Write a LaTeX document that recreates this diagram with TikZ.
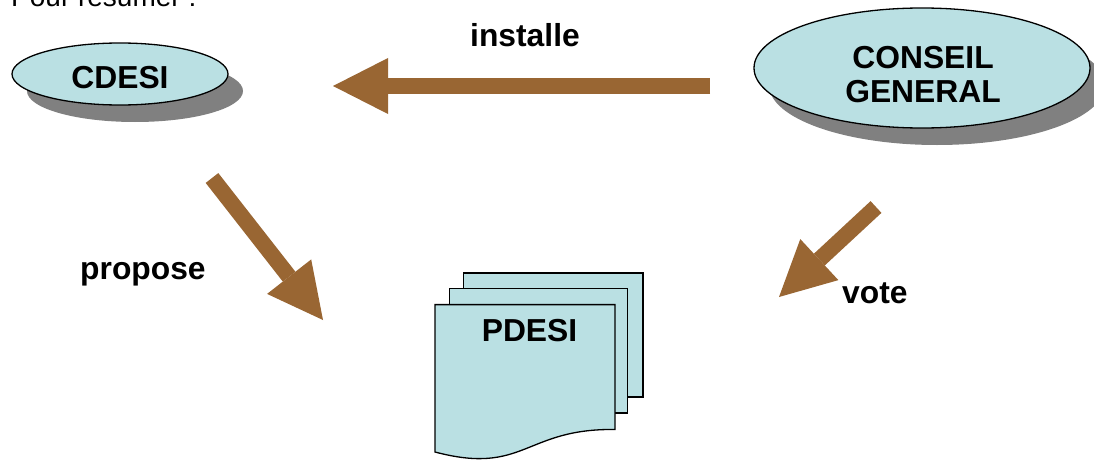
\documentclass[tikz,border=0pt]{standalone}
\usepackage{fontspec}
\setmainfont{Liberation Sans}
\usetikzlibrary{arrows.meta,shapes.geometric,shadows}
\definecolor{paleteal}{RGB}{186,224,227}
\definecolor{shadowgray}{RGB}{128,128,128}
\definecolor{arrowbrown}{RGB}{153,102,51}
\tikzset{
  body/.style={ellipse, draw=black, line width=1.3pt, fill=paleteal, inner sep=0pt,
    general shadow={fill=shadowgray, shadow xshift=15pt, shadow yshift=-17pt}},
  caption/.style={font=\fontsize{31.8}{34}\selectfont\bfseries, inner sep=0pt, align=center},
  heading/.style={font=\fontsize{28}{32}\selectfont, inner sep=0pt},
  flow/.style={arrowbrown, line width=16pt,
    -{Triangle[length=55pt,width=56pt,line width=0pt]}},
  page/.style={draw=black, line width=1.3pt, fill=paleteal, line join=miter}
}
\begin{document}
\begin{tikzpicture}[x=1pt,y=-1pt]
\clip (0,0) rectangle (1094,460);
\fill[white] (0,0) rectangle (1094,460);

% heading, partly above the frame
\node[heading, anchor=base west] (title) at (11,7) {Pour résumer :};

% the two bodies
\node[body, minimum width=216pt, minimum height=62pt] (cdesi) at (120,74) {};
\node[caption] (cdesitxt) at (120,78) {CDESI};

\node[body, minimum width=336pt, minimum height=120pt] (cg) at (922,68) {};
\node[caption] (cgtxt) at (923,74.5) {CONSEIL\\GENERAL};

% stacked document
\filldraw[page] (463.6,273) rectangle (643,397);
\filldraw[page] (449.8,288.6) rectangle (627.6,413);
\filldraw[page] (435,452) .. controls (524.5,475.7) and (524.5,428.2) .. (615,429.5)
  -- (615,304.6) -- (435,304.6) -- cycle;
\node[caption] (pdesi) at (529.5,331) {PDESI};

% arrows
\coordinate (instA) at (710,86);
\coordinate (instB) at (333,86);
\coordinate (propA) at (212,178);
\coordinate (propB) at (323,320);
\coordinate (voteA) at (876,207);
\coordinate (voteB) at (779,297);
\draw[flow] (instA) -- (instB);
\draw[flow] (propA) -- (propB);
\draw[flow] (voteA) -- (voteB);

% arrow labels
\node[caption, anchor=base west] (lblinst) at (470,46.5) {installe};
\node[caption, anchor=base west] (lblprop) at (80,279) {propose};
\node[caption, anchor=base west] (lblvote) at (842,303.5) {vote};
\end{tikzpicture}
\end{document}
